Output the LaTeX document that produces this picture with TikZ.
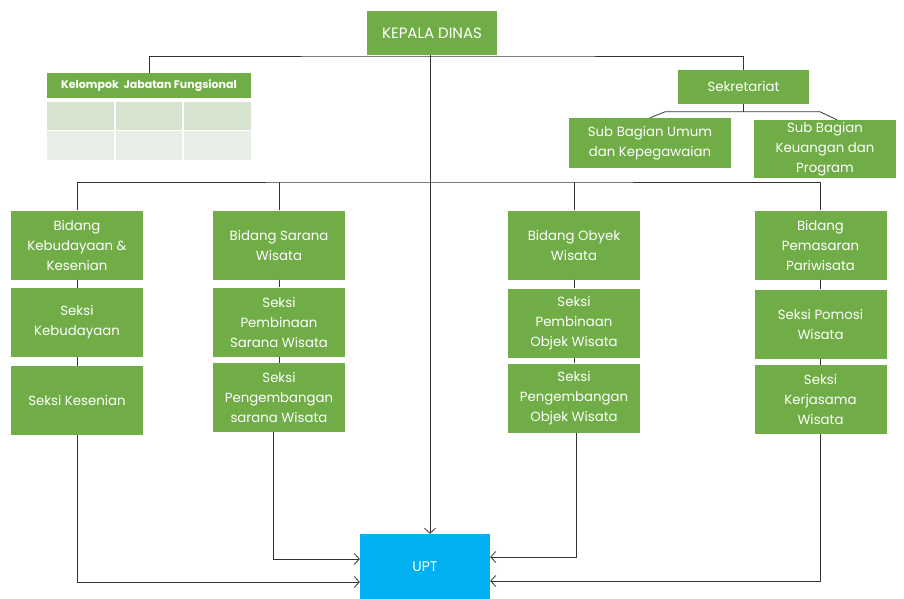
\documentclass[tikz,border=0pt]{standalone}
\usepackage{fontspec}
\setmainfont{Poppins}
\usetikzlibrary{arrows.meta}
\definecolor{hijau}{HTML}{70AD47}
\definecolor{biru}{HTML}{00B0F0}
\definecolor{baris1}{HTML}{D5E3CF}
\definecolor{baris2}{HTML}{E9EFE6}
\begin{document}
\begin{tikzpicture}[x=1pt, y=-1pt,
  kotak/.style = {fill=hijau, text=white, align=center, inner sep=0pt, font=\fontsize{13.3}{20}\selectfont},
  seksi/.style = {kotak, minimum width=132pt, minimum height=69pt},
  garis/.style = {draw=black!80, line width=0.8pt},
  panah/.style = {garis, -{Straight Barb[length=5pt, width=11pt]}}]
  \useasboundingbox (0,0) rectangle (904,599);

  \node[kotak, minimum width=130pt, minimum height=44pt, font=\fontsize{15}{17}\selectfont] (kepala) at (432,33) {KEPALA DINAS};
  \node[kotak, minimum width=204pt, minimum height=25pt, font=\bfseries\fontsize{11}{13}\selectfont] (kjf) at (149,85.5) {Kelompok\ \ Jabatan Fungsional};
  \fill[baris1] (47,102) rectangle (251,130);
  \fill[baris2] (47,131) rectangle (251,160);
  \foreach \x in {115,183}
    \draw[white, line width=1.5pt] (\x,102) -- (\x,160);

  \node[kotak, minimum width=131pt, minimum height=34pt] (sek) at (743.5,87) {Sekretariat};
  \node[kotak, minimum width=162pt, minimum height=50pt] (umum) at (650,143) {Sub Bagian Umum\\dan Kepegawaian};
  \node[kotak, minimum width=142pt, minimum height=58pt] (uang) at (825,149) {Sub Bagian\\Keuangan dan\\Program};

  % bidang dan seksi
  \node[seksi] (b1) at (77,245) {Bidang\\Kebudayaan \&\\Kesenian};
  \node[seksi] (b1s1) at (77,322.5) {Seksi\\Kebudayaan};
  \node[seksi] (b1s2) at (77,400.5) {Seksi Kesenian};
  \node[seksi] (b2) at (279,245) {Bidang Sarana\\Wisata};
  \node[seksi] (b2s1) at (279,322) {Seksi\\Pembinaan\\Sarana Wisata};
  \node[seksi] (b2s2) at (279,397.5) {Seksi\\Pengembangan\\sarana Wisata};
  \node[seksi] (b3) at (574,245) {Bidang Obyek\\Wisata};
  \node[seksi] (b3s1) at (574,323) {Seksi\\Pembinaan\\Objek Wisata};
  \node[seksi] (b3s2) at (574,398) {Seksi\\Pengembangan\\Objek Wisata};
  \node[seksi] (b4) at (820.5,245) {Bidang\\Pemasaran\\Pariwisata};
  \node[seksi] (b4s1) at (820.5,324) {Seksi Pomosi\\Wisata};
  \node[seksi] (b4s2) at (820.5,399.5) {Seksi\\Kerjasama\\Wisata};

  \node[fill=biru, text=white, minimum width=130pt, minimum height=65pt, font=\fontsize{14}{16}\selectfont] (upt) at (425,566.5) {UPT};

  \coordinate (atas) at (450,56);
  \coordinate (tengah) at (450,182);
  \coordinate (sekbawah) at (743.5,112);

  \draw[garis] (kjf.north) |- (atas) -| (sek.north);
  \draw[garis] (sek.south) -- (sekbawah);
  \draw[garis] (umum.north) -- ++(15,-6) -- ++(155,0) -- ([xshift=12pt]uang.north);
  \draw[garis] (b1.north) |- (tengah) -| (b4.north);
  \draw[garis] (b2.north) -- (b2.north |- tengah);
  \draw[garis] (b3.north) -- (b3.north |- tengah);
  \foreach \a/\b in {b1/b1s1, b1s1/b1s2, b2/b2s1, b2s1/b2s2, b3/b3s1, b3s1/b3s2, b4/b4s1, b4s1/b4s2}
    \draw[garis] (\a.south) -- (\b.north);

  \draw[panah] ([xshift=-2pt]kepala.south) -- ([xshift=5pt]upt.north);
  \draw[panah] (b1s2.south) |- ([yshift=-15.5pt]upt.west);
  \draw[panah] ([xshift=-6pt]b2s2.south) |- ([yshift=7.5pt]upt.west);
  \draw[panah] ([xshift=2pt]b3s2.south) |- ([yshift=9.5pt]upt.east);
  \draw[panah] (b4s2.south) |- ([yshift=-14.5pt]upt.east);
\end{tikzpicture}
\end{document}
